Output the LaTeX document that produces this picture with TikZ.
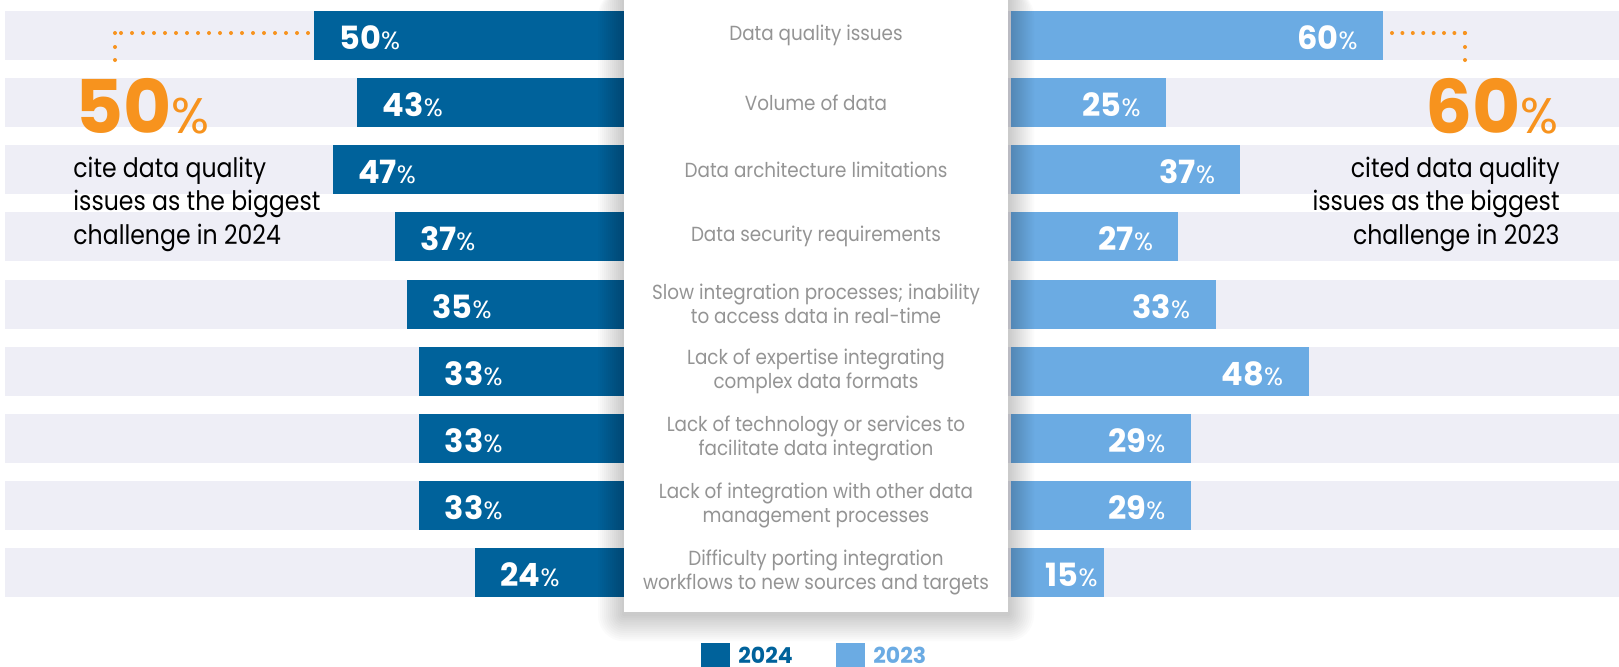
\documentclass[tikz,border=0pt]{standalone}
\usepackage{fontspec}
\newfontfamily\pop{Poppins}
\newfontfamily\popc[FakeStretch=0.9]{Poppins}
\newfontfamily\popn[FakeStretch=0.88]{Poppins}
\definecolor{dblue}{RGB}{0,98,155}
\definecolor{lblue}{RGB}{107,171,227}
\definecolor{bgbar}{RGB}{238,238,246}
\definecolor{orng}{RGB}{247,147,30}
\definecolor{labgray}{RGB}{148,148,148}
\newcommand\pc[1]{{\fontsize{16}{16}\selectfont\bfseries#1}{\fontsize{12.5}{12.5}\selectfont\%}}
\newcommand\bigpc[1]{{\fontsize{37}{37}\selectfont\bfseries#1}{\fontsize{25}{25}\selectfont\%}}
\begin{document}
\begin{tikzpicture}[x=0.5pt,y=-0.5pt,
  val/.style={text=white, inner sep=0pt, font=\pop},
  cat/.style={text=labgray, align=center, inner sep=0pt, font=\popc\fontsize{10.2}{12}\selectfont},
  note/.style={inner sep=0pt, text=black, font=\popn\fontsize{13.4}{16.75}\selectfont},
  big/.style={inner sep=0pt, text=orng, font=\pop},
  dotline/.style={orng, line width=2pt, line cap=round},
  dotpt/.style={orng},
  leg/.style={inner sep=0pt, font=\pop\bfseries\fontsize{11}{11}\selectfont}]
\useasboundingbox (0,0) rectangle (1619,666);
\clip (0,0) rectangle (1619,666);
\fill[white] (0,0) rectangle (1619,666);
% rows
\foreach \i/\l/\r in {0/50/60, 1/43/25, 2/47/37, 3/37/27, 4/35/33, 5/33/48, 6/33/29, 7/33/29, 8/24/15}{
  \pgfmathsetmacro\top{11+67.125*\i}
  \pgfmathsetmacro\bot{\top+49}
  \pgfmathsetmacro\lx{624-6.2*\l}
  \pgfmathsetmacro\rx{1011+6.2*\r}
  \fill[bgbar] (5,\top) rectangle (1619,\bot);
  \fill[dblue] (\lx,\top) rectangle (624,\bot);
  \fill[lblue] (1011,\top) rectangle (\rx,\bot);
}
% card shadow
\foreach \k in {1,...,13}{
  \fill[black, opacity=0.016, rounded corners=\k pt] (624-2*\k,-10) rectangle (1008+2*\k,614+2.1*\k);
}
\fill[white] (624,-10) rectangle (1008,612);
% labels
\foreach \i/\l/\r/\ro/\txt in {
  0/50/60/25/{Data quality issues},
  1/43/25/25/{Volume of data},
  2/47/37/25/{Data architecture limitations},
  3/37/27/25/{Data security requirements},
  4/35/33/25/{Slow integration processes; inability\\to access data in real-time},
  5/33/48/25/{Lack of expertise integrating\\complex data formats},
  6/33/29/25/{Lack of technology or services to\\facilitate data integration},
  7/33/29/25/{Lack of integration with other data\\management processes},
  8/24/15/6/{Difficulty porting integration\\workflows to new sources and targets}}{
  \pgfmathsetmacro\cy{35.5+67.125*\i}
  \pgfmathsetmacro\lx{624-6.2*\l+25}
  \pgfmathsetmacro\rx{1011+6.2*\r-\ro}
  \node[val, anchor=base west] (lv\i) at (\lx,\cy+14) {\pc{\l}};
  \node[val, anchor=base east] (rv\i) at (\rx,\cy+14) {\pc{\r}};
  \node[cat, anchor=center] (cat\i) at (816,\cy) {\txt};
}
% callouts
\node[big, anchor=base west] (big50) at (75,133) {\bigpc{50}};
\node[big, anchor=base east] (big60) at (1559,133) {\bigpc{60}};
\node[note, anchor=base west, align=left] (note50) at (73,244) {cite data quality\\issues as the biggest\\challenge in 2024};
\node[note, anchor=base east, align=right] (note60) at (1560,244) {cited data quality\\issues as the biggest\\challenge in 2023};
\coordinate (dl1) at (308,33);
\coordinate (dl2) at (115,33);
\coordinate (dl3) at (115,47);
\coordinate (dl4) at (115,60);
\draw[dotline, dash pattern=on 0pt off 5.5pt] (dl1) -- (dl2);
\fill[dotpt] (dl2) circle (2) (dl3) circle (2) (dl4) circle (2);
\coordinate (dr1) at (1392,33);
\coordinate (dr2) at (1465,33);
\coordinate (dr3) at (1465,47);
\coordinate (dr4) at (1465,60);
\draw[dotline, dash pattern=on 0pt off 5.2pt] (dr1) -- (dr2);
\fill[dotpt] (dr2) circle (2) (dr3) circle (2) (dr4) circle (2);
% legend
\fill[dblue] (701,643) rectangle (730,680);
\node[leg, text=dblue, anchor=base west] (l24) at (738,663) {2024};
\fill[lblue] (836,643) rectangle (865,680);
\node[leg, text=lblue, anchor=base west] (l23) at (873,663) {2023};
\end{tikzpicture}
\end{document}
